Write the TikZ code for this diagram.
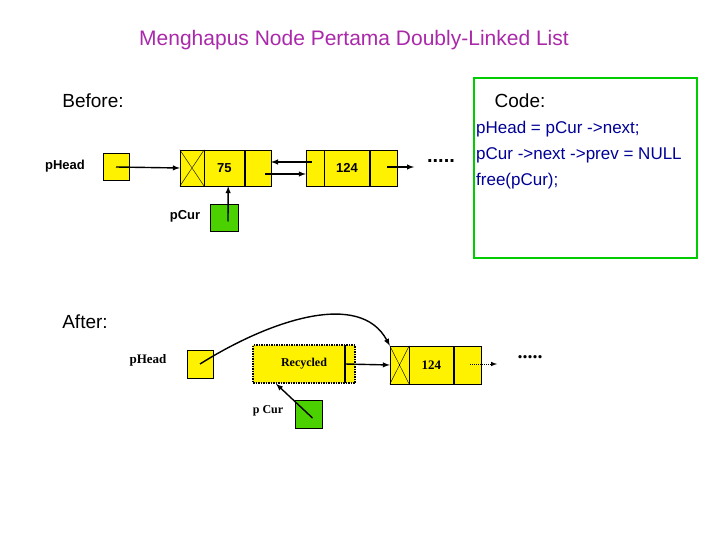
\documentclass[tikz,border=0pt]{standalone}
\usepackage{fontspec}
\setmainfont{Liberation Sans}
\newfontfamily\seriffont{Liberation Serif}
\definecolor{titlec}{RGB}{170,40,170}
\definecolor{codec}{RGB}{0,0,150}
\begin{document}
\begin{tikzpicture}[x=1pt, y=-1pt, cell/.style={draw, fill=yellow, inner sep=0pt}, ptr/.style={draw, fill=green!70!black!60!lime, inner sep=0pt}, n/.style={-latex, line width=1.4pt}, lab/.style={font=\fontsize{13}{15}\selectfont\bfseries}, slab/.style={font=\seriffont\fontsize{13}{15}\selectfont\bfseries}, head/.style={font=\fontsize{19}{22}\selectfont}]
    \useasboundingbox (0,0) rectangle (720,540);
    % titles
    \node[head, text=titlec, font=\fontsize{21}{24}\selectfont] (title) at (354,40) {Menghapus Node Pertama Doubly-Linked List};
    \node[head] (before) at (93,101) {Before:};
    \node[head] (code) at (520,101) {Code:};
    \node[head] (after) at (85,322) {After:};
    % code box
    \node[draw=green!80!black, line width=2pt, minimum width=223pt, minimum height=180pt] (box) at (585.5,168) {};
    \node[anchor=west, text=codec, font=\fontsize{17}{26}\selectfont, align=left, inner sep=1pt] (src) at (475,155) {pHead = pCur -\textgreater next;\\pCur -\textgreater next -\textgreater prev = NULL\\free(pCur);};
    % before
    \node[lab] (hlab) at (65,166) {pHead};
    \node[cell, minimum width=26pt, minimum height=27pt] (head) at (116,167) {};
    \node[cell, minimum width=24pt, minimum height=36pt] (a0) at (192,168) {};
    \draw (a0.north west) -- (a0.south east) (a0.north east) -- (a0.south west);
    \node[cell, minimum width=40pt, minimum height=36pt, lab, anchor=west] (a1) at (a0.east) {75};
    \node[cell, minimum width=26pt, minimum height=36pt, anchor=west] (a2) at (a1.east) {};
    \node[cell, minimum width=18pt, minimum height=36pt] (b0) at (315,168) {};
    \node[cell, minimum width=45pt, minimum height=36pt, lab, anchor=west] (b1) at (b0.east) {124};
    \node[cell, minimum width=27pt, minimum height=36pt, anchor=west] (b2) at (b1.east) {};
    \node[font=\fontsize{20}{22}\selectfont\bfseries] (dots1) at (441,161) {.....};
    \node[ptr, minimum width=28pt, minimum height=27pt] (cur) at (224,217.5) {};
    \node[lab] (clab) at (185,216) {pCur};
    \coordinate (b2c) at (387,167);
    \coordinate (b2e) at (414,167);
    \draw[n] (head.center) -- (a0.west);
    \draw[n] ([xshift=6pt,yshift=6pt]b0.west) -- ([yshift=6pt]a2.east);
    \draw[n] ([xshift=-6pt,yshift=-6pt]a2.east) -- ([yshift=-6pt]b0.west);
    \draw[n] (b2c) -- (b2e);
    \draw[n] ([xshift=4pt,yshift=-4pt]cur.center) -- ([xshift=24pt]a1.south west);
    % after
    \node[slab] (hlab2) at (148,360) {pHead};
    \node[cell, minimum width=26pt, minimum height=28pt] (head2) at (200,364) {};
    \node[cell, densely dotted, line width=1.5pt, minimum width=102pt, minimum height=38pt, slab, font=\seriffont\fontsize{12}{14}\selectfont\bfseries, text width=82pt, align=center] (rec) at (304,364) {Recycled};
    \coordinate (rt) at (345,345);
    \coordinate (rb) at (345,383);
    \draw[line width=1.5pt] (rt) -- (rb);
    \node[cell, minimum width=19pt, minimum height=38pt] (c0) at (399.5,365) {};
    \draw (c0.north west) -- (c0.south east) (c0.north east) -- (c0.south west);
    \node[cell, minimum width=44pt, minimum height=38pt, slab, anchor=west] (c1) at (c0.east) {124};
    \node[cell, minimum width=27pt, minimum height=38pt, anchor=west] (c2) at (c1.east) {};
    \node[font=\seriffont\fontsize{20}{22}\selectfont\bfseries] (dots2) at (530,357) {.....};
    \node[ptr, minimum width=27pt, minimum height=28pt] (cur2) at (308.5,414) {};
    \node[slab, font=\seriffont\fontsize{12}{14}\selectfont\bfseries] (clab2) at (268,411) {p Cur};
    \coordinate (rm) at (345,364);
    \coordinate (c2s) at (470,364);
    \coordinate (c2e) at (497,364);
    \draw[n] (rm) -- (c0.west);
    \draw[-latex, densely dotted, line width=1pt] (c2s) -- (c2e);
    \draw[n] (head2.center) .. controls (270,320) and (360,290) .. (c0.north west);
    \draw[n] ([xshift=4pt,yshift=-4pt]cur2.center) -- ([xshift=-28pt]rec.south);
\end{tikzpicture}
\end{document}
